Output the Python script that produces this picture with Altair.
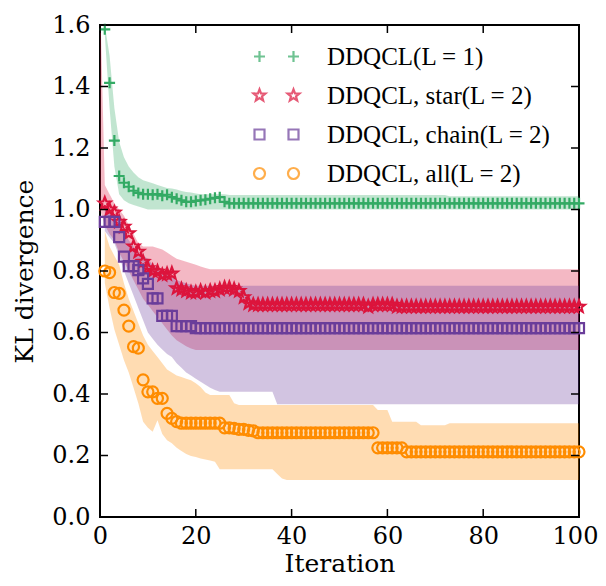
import math
import altair as alt
import pandas as pd

# ---------------- data ----------------
iterations = list(range(1, 101))
red_band_iterations = list(range(0, 101))

series_names = ["DDQCL(L = 1)", "DDQCL, star(L = 2)", "DDQCL, chain(L = 2)", "DDQCL, all(L = 2)"]
series_colors = ["#33aa64", "#dc143c", "#6a3d9a", "#ff8c00"]

green_mean = [
    1.586, 1.412, 1.224, 1.109, 1.087, 1.074, 1.061, 1.054, 1.05, 1.05,
    1.048, 1.05, 1.045, 1.048, 1.04, 1.035, 1.03, 1.025, 1.025, 1.028,
    1.03, 1.032, 1.035, 1.038, 1.04, 1.025, 1.02, 1.02, 1.02, 1.02,
    1.02, 1.02, 1.02, 1.02, 1.02, 1.02, 1.02, 1.02, 1.02, 1.02,
    1.02, 1.02, 1.02, 1.02, 1.02, 1.02, 1.02, 1.02, 1.02, 1.02,
    1.02, 1.02, 1.02, 1.02, 1.02, 1.02, 1.02, 1.02, 1.02, 1.02,
    1.02, 1.02, 1.02, 1.02, 1.02, 1.02, 1.02, 1.02, 1.02, 1.02,
    1.02, 1.02, 1.02, 1.02, 1.02, 1.02, 1.02, 1.02, 1.02, 1.02,
    1.02, 1.02, 1.02, 1.02, 1.02, 1.02, 1.02, 1.02, 1.02, 1.02,
    1.02, 1.02, 1.02, 1.02, 1.02, 1.02, 1.02, 1.02, 1.02, 1.02,
]
green_lo = [
    1.57, 1.33, 1.14, 1.05, 1.03, 1.02, 1.015, 1.01, 1.005, 1.0,
    1.0, 1.0, 1.0, 1.0, 1.0, 1.0, 1.0, 1.0, 1.0, 1.0,
    1.0, 1.0, 1.0, 1.0, 1.0, 1.0, 1.0, 1.0, 1.0, 1.0,
    1.0, 1.0, 1.0, 1.0, 1.0, 1.0, 1.0, 1.0, 1.0, 1.0,
    1.0, 1.0, 1.0, 1.0, 1.0, 1.0, 1.0, 1.0, 1.0, 1.0,
    1.0, 1.0, 1.0, 1.0, 1.0, 1.0, 1.0, 1.0, 1.0, 1.0,
    1.0, 1.0, 1.0, 1.0, 1.0, 1.0, 1.0, 1.0, 1.0, 1.0,
    1.0, 1.0, 1.0, 1.0, 1.0, 1.0, 1.0, 1.0, 1.0, 1.0,
    1.0, 1.0, 1.0, 1.0, 1.0, 1.0, 1.0, 1.0, 1.0, 1.0,
    1.0, 1.0, 1.0, 1.0, 1.0, 1.0, 1.0, 1.0, 1.0, 1.0,
]
green_hi = [
    1.6, 1.5, 1.33, 1.22, 1.17, 1.14, 1.12, 1.105, 1.095, 1.09,
    1.085, 1.08, 1.075, 1.07, 1.068, 1.065, 1.06, 1.057, 1.055, 1.052,
    1.05, 1.05, 1.05, 1.05, 1.05, 1.05, 1.047, 1.047, 1.047, 1.047,
    1.047, 1.047, 1.047, 1.047, 1.047, 1.047, 1.047, 1.047, 1.047, 1.047,
    1.047, 1.047, 1.047, 1.047, 1.047, 1.047, 1.047, 1.047, 1.047, 1.047,
    1.047, 1.047, 1.047, 1.047, 1.047, 1.047, 1.047, 1.047, 1.047, 1.047,
    1.047, 1.047, 1.047, 1.047, 1.047, 1.047, 1.047, 1.047, 1.047, 1.047,
    1.047, 1.047, 1.043, 1.043, 1.043, 1.043, 1.043, 1.043, 1.043, 1.043,
    1.043, 1.043, 1.043, 1.043, 1.043, 1.043, 1.043, 1.043, 1.043, 1.043,
    1.043, 1.043, 1.043, 1.043, 1.043, 1.043, 1.043, 1.043, 1.043, 1.043,
]

red_mean = [
    1.02, 1.0, 0.99, 0.96, 0.944, 0.923, 0.88, 0.863, 0.83, 0.809,
    0.8, 0.798, 0.787, 0.79, 0.792, 0.744, 0.74, 0.735, 0.73, 0.73,
    0.735, 0.73, 0.735, 0.735, 0.74, 0.745, 0.745, 0.74, 0.735, 0.715,
    0.695, 0.69, 0.69, 0.69, 0.69, 0.69, 0.69, 0.69, 0.69, 0.69,
    0.69, 0.69, 0.69, 0.69, 0.69, 0.69, 0.69, 0.69, 0.69, 0.69,
    0.69, 0.69, 0.69, 0.69, 0.69, 0.684, 0.69, 0.69, 0.69, 0.69,
    0.69, 0.684, 0.684, 0.684, 0.684, 0.684, 0.684, 0.684, 0.684, 0.684,
    0.684, 0.684, 0.684, 0.684, 0.684, 0.684, 0.684, 0.684, 0.684, 0.684,
    0.684, 0.684, 0.684, 0.684, 0.684, 0.684, 0.684, 0.684, 0.684, 0.684,
    0.684, 0.684, 0.684, 0.684, 0.684, 0.684, 0.684, 0.684, 0.684, 0.684,
]
# red band starts one step earlier (iteration 0)
red_lo = [
    1.0,
    0.95, 0.92, 0.9, 0.86, 0.83, 0.8, 0.77, 0.74, 0.71, 0.69,
    0.67, 0.65, 0.63, 0.61, 0.59, 0.575, 0.565, 0.555, 0.548, 0.543,
    0.543, 0.543, 0.543, 0.543, 0.543, 0.543, 0.543, 0.543, 0.543, 0.543,
    0.543, 0.543, 0.543, 0.543, 0.543, 0.543, 0.543, 0.543, 0.543, 0.543,
    0.543, 0.543, 0.543, 0.543, 0.543, 0.543, 0.543, 0.543, 0.543, 0.543,
    0.543, 0.543, 0.543, 0.543, 0.543, 0.543, 0.543, 0.543, 0.543, 0.543,
    0.543, 0.543, 0.543, 0.543, 0.543, 0.543, 0.543, 0.543, 0.543, 0.543,
    0.543, 0.543, 0.543, 0.543, 0.543, 0.543, 0.543, 0.543, 0.543, 0.543,
    0.543, 0.543, 0.543, 0.543, 0.543, 0.543, 0.543, 0.543, 0.543, 0.543,
    0.543, 0.543, 0.543, 0.543, 0.543, 0.543, 0.543, 0.543, 0.543, 0.543,
]
red_hi = [
    1.7,
    1.08, 1.05, 1.02, 1.0, 0.98, 0.95, 0.92, 0.89, 0.88, 0.88,
    0.88, 0.875, 0.87, 0.86, 0.85, 0.84, 0.835, 0.83, 0.825, 0.82,
    0.815, 0.81, 0.806, 0.806, 0.806, 0.806, 0.806, 0.806, 0.806, 0.806,
    0.806, 0.806, 0.806, 0.806, 0.806, 0.806, 0.806, 0.806, 0.806, 0.806,
    0.806, 0.806, 0.806, 0.806, 0.806, 0.806, 0.806, 0.806, 0.806, 0.806,
    0.806, 0.806, 0.806, 0.806, 0.806, 0.806, 0.806, 0.806, 0.806, 0.806,
    0.806, 0.806, 0.806, 0.806, 0.806, 0.806, 0.806, 0.806, 0.806, 0.806,
    0.806, 0.806, 0.806, 0.806, 0.806, 0.806, 0.806, 0.806, 0.806, 0.806,
    0.806, 0.806, 0.806, 0.806, 0.806, 0.806, 0.806, 0.806, 0.806, 0.806,
    0.806, 0.806, 0.806, 0.806, 0.806, 0.806, 0.806, 0.806, 0.806, 0.806,
]

purple_mean = [
    0.96, 0.96, 0.96, 0.91, 0.847, 0.816, 0.816, 0.803, 0.776, 0.758,
    0.711, 0.711, 0.654, 0.654, 0.654, 0.621, 0.621, 0.621, 0.621, 0.614,
    0.614, 0.614, 0.614, 0.614, 0.614, 0.614, 0.614, 0.614, 0.614, 0.614,
    0.614, 0.614, 0.614, 0.614, 0.614, 0.614, 0.614, 0.614, 0.614, 0.614,
    0.614, 0.614, 0.614, 0.614, 0.614, 0.614, 0.614, 0.614, 0.614, 0.614,
    0.614, 0.614, 0.614, 0.614, 0.614, 0.614, 0.614, 0.614, 0.614, 0.614,
    0.614, 0.614, 0.614, 0.614, 0.614, 0.614, 0.614, 0.614, 0.614, 0.614,
    0.614, 0.614, 0.614, 0.614, 0.614, 0.614, 0.614, 0.614, 0.614, 0.614,
    0.614, 0.614, 0.614, 0.614, 0.614, 0.614, 0.614, 0.614, 0.614, 0.614,
    0.614, 0.614, 0.614, 0.614, 0.614, 0.614, 0.614, 0.614, 0.614, 0.614,
]
purple_lo = [
    0.93, 0.91, 0.89, 0.85, 0.8, 0.76, 0.72, 0.68, 0.64, 0.6,
    0.58, 0.56, 0.545, 0.53, 0.52, 0.5, 0.485, 0.47, 0.46, 0.45,
    0.44, 0.43, 0.42, 0.413, 0.407, 0.407, 0.407, 0.407, 0.407, 0.407,
    0.407, 0.407, 0.407, 0.407, 0.407, 0.407, 0.367, 0.367, 0.367, 0.367,
    0.367, 0.367, 0.367, 0.367, 0.367, 0.367, 0.367, 0.367, 0.367, 0.367,
    0.367, 0.367, 0.367, 0.367, 0.367, 0.367, 0.367, 0.367, 0.367, 0.367,
    0.367, 0.367, 0.367, 0.367, 0.367, 0.367, 0.367, 0.367, 0.367, 0.367,
    0.367, 0.367, 0.367, 0.367, 0.367, 0.367, 0.367, 0.367, 0.367, 0.367,
    0.367, 0.367, 0.367, 0.367, 0.367, 0.367, 0.367, 0.367, 0.367, 0.367,
    0.367, 0.367, 0.367, 0.367, 0.367, 0.367, 0.367, 0.367, 0.367, 0.367,
]
purple_hi = [
    1.0, 0.99, 0.98, 0.96, 0.93, 0.9, 0.88, 0.86, 0.85, 0.84,
    0.82, 0.81, 0.8, 0.79, 0.78, 0.77, 0.765, 0.76, 0.755, 0.752,
    0.752, 0.752, 0.752, 0.752, 0.752, 0.752, 0.752, 0.752, 0.752, 0.752,
    0.752, 0.752, 0.752, 0.752, 0.752, 0.752, 0.752, 0.752, 0.752, 0.752,
    0.752, 0.752, 0.752, 0.752, 0.752, 0.752, 0.752, 0.752, 0.752, 0.752,
    0.752, 0.752, 0.752, 0.752, 0.752, 0.752, 0.752, 0.752, 0.752, 0.752,
    0.752, 0.752, 0.752, 0.752, 0.752, 0.752, 0.752, 0.752, 0.752, 0.752,
    0.752, 0.752, 0.752, 0.752, 0.752, 0.752, 0.752, 0.752, 0.752, 0.752,
    0.752, 0.752, 0.752, 0.752, 0.752, 0.752, 0.752, 0.752, 0.752, 0.752,
    0.752, 0.752, 0.752, 0.752, 0.752, 0.752, 0.752, 0.752, 0.752, 0.752,
]

orange_mean = [
    0.8, 0.795, 0.73, 0.727, 0.673, 0.621, 0.554, 0.549, 0.446, 0.407,
    0.407, 0.386, 0.386, 0.337, 0.321, 0.31, 0.305, 0.305, 0.305, 0.305,
    0.305, 0.305, 0.305, 0.305, 0.305, 0.29, 0.29, 0.288, 0.285, 0.285,
    0.282, 0.28, 0.274, 0.274, 0.274, 0.274, 0.274, 0.274, 0.274, 0.274,
    0.274, 0.274, 0.274, 0.274, 0.274, 0.274, 0.274, 0.274, 0.274, 0.274,
    0.274, 0.274, 0.274, 0.274, 0.274, 0.274, 0.274, 0.225, 0.225, 0.225,
    0.225, 0.225, 0.225, 0.212, 0.212, 0.212, 0.212, 0.212, 0.212, 0.212,
    0.212, 0.212, 0.212, 0.212, 0.212, 0.212, 0.212, 0.212, 0.212, 0.212,
    0.212, 0.212, 0.212, 0.212, 0.212, 0.212, 0.212, 0.212, 0.212, 0.212,
    0.212, 0.212, 0.212, 0.212, 0.212, 0.212, 0.212, 0.212, 0.212, 0.212,
]
orange_lo = [
    0.76, 0.68, 0.61, 0.56, 0.51, 0.47, 0.42, 0.37, 0.31, 0.29,
    0.277, 0.315, 0.27, 0.25, 0.24, 0.225, 0.215, 0.205, 0.198, 0.195,
    0.19, 0.187, 0.184, 0.18, 0.155, 0.155, 0.155, 0.155, 0.155, 0.155,
    0.155, 0.155, 0.155, 0.155, 0.155, 0.155, 0.14, 0.125, 0.12, 0.12,
    0.12, 0.12, 0.12, 0.12, 0.12, 0.12, 0.12, 0.12, 0.12, 0.12,
    0.12, 0.12, 0.12, 0.12, 0.12, 0.12, 0.12, 0.12, 0.12, 0.12,
    0.12, 0.12, 0.12, 0.12, 0.12, 0.12, 0.12, 0.12, 0.12, 0.12,
    0.12, 0.12, 0.12, 0.12, 0.12, 0.12, 0.12, 0.12, 0.12, 0.12,
    0.12, 0.12, 0.12, 0.12, 0.12, 0.12, 0.12, 0.12, 0.12, 0.12,
    0.12, 0.12, 0.12, 0.12, 0.12, 0.12, 0.12, 0.12, 0.12, 0.12,
]
orange_hi = [
    0.93, 0.88, 0.85, 0.82, 0.76, 0.71, 0.67, 0.63, 0.59, 0.56,
    0.54, 0.52, 0.5, 0.48, 0.47, 0.46, 0.455, 0.45, 0.445, 0.435,
    0.423, 0.405, 0.397, 0.397, 0.397, 0.397, 0.397, 0.37, 0.364, 0.364,
    0.364, 0.364, 0.364, 0.364, 0.364, 0.364, 0.364, 0.364, 0.364, 0.364,
    0.364, 0.364, 0.364, 0.364, 0.364, 0.364, 0.364, 0.364, 0.364, 0.364,
    0.364, 0.364, 0.364, 0.364, 0.364, 0.364, 0.364, 0.348, 0.348, 0.348,
    0.31, 0.31, 0.31, 0.31, 0.31, 0.31, 0.298, 0.298, 0.298, 0.298,
    0.298, 0.298, 0.305, 0.305, 0.305, 0.305, 0.305, 0.305, 0.305, 0.305,
    0.305, 0.305, 0.305, 0.305, 0.305, 0.305, 0.305, 0.305, 0.305, 0.305,
    0.305, 0.305, 0.305, 0.305, 0.305, 0.305, 0.305, 0.305, 0.305, 0.305,
]

x_ticks = [0, 20, 40, 60, 80, 100]
y_ticks = [0.0, 0.2, 0.4, 0.6, 0.8, 1.0, 1.2, 1.4, 1.6]

# ---------------- tables ----------------
means = [green_mean, red_mean, purple_mean, orange_mean]
bands = [
    (iterations, green_lo, green_hi),
    (red_band_iterations, red_lo, red_hi),
    (iterations, purple_lo, purple_hi),
    (iterations, orange_lo, orange_hi),
]
points_rows, band_rows = [], []
for name, m in zip(series_names, means):
    for x, v in zip(iterations, m):
        points_rows.append({"series": name, "x": x, "v": v})
for name, (xs, lo, hi) in zip(series_names, bands):
    for x, a, b in zip(xs, lo, hi):
        band_rows.append({"series": name, "x": x, "lo": a, "hi": b})
points_df = pd.DataFrame(points_rows)
band_df = pd.DataFrame(band_rows)
legend_df = pd.DataFrame({"series": series_names})
xt_df = pd.DataFrame({"t": x_ticks})
yt_df = pd.DataFrame({"t": y_ticks})

# ---------------- marker shapes (pixel-sized paths, drawn with size=4) ----------------
def plus(dx=0.0, r=5.5):
    return f"M{dx - r},0H{dx + r}M{dx},{-r}V{r}"

def square(dx=0.0, r=5.0):
    return f"M{dx - r},{-r}H{dx + r}V{r}H{dx - r}Z"

def circle(dx=0.0, r=5.5):
    return f"M{dx - r},0A{r},{r} 0 1,0 {dx + r},0A{r},{r} 0 1,0 {dx - r},0Z"

def star(dx=0.0, R=6.2):
    pts = []
    for k in range(10):
        rad = R if k % 2 == 0 else R * 0.42
        ang = math.radians(-90 + 36 * k)
        pts.append(f"{dx + rad * math.cos(ang):.2f},{rad * math.sin(ang):.2f}")
    return "M" + "L".join(pts) + "Z"

single_paths = [plus(), star(), square(), circle()]
gap = 17
double_paths = [
    plus(-gap) + plus(gap),
    star(-gap) + star(gap),
    square(-gap) + square(gap),
    circle(-gap) + circle(gap),
]

# ---------------- chart ----------------
W, H = 479, 492
FONT = "DejaVu Serif"
xscale = alt.Scale(domain=[0, 100], nice=False, zero=False)
yscale = alt.Scale(domain=[0, 1.6], nice=False)
cscale = alt.Scale(domain=series_names, range=series_colors)

xaxis = alt.Axis(values=x_ticks, format="d", title="Iteration", ticks=False, tickSize=0,
                 domain=False, grid=False, labelPadding=7, titlePadding=3,
                 labelFlush=False, labelOverlap=False,
                 labelOffset={"condition": {"test": "datum.value === 100", "value": -4}, "value": 0})
yaxis = alt.Axis(values=y_ticks, format=".1f", title="KL divergence", ticks=False, tickSize=0,
                 domain=False, grid=False, labelPadding=10, titlePadding=14,
                 labelFlush=False, labelOverlap=False)

X = lambda f: alt.X(f, scale=xscale, axis=xaxis)
Y = lambda f: alt.Y(f, scale=yscale, axis=yaxis)

band_layer = alt.Chart(band_df).mark_area(opacity=0.3, clip=True).encode(
    x=X("x:Q"),
    y=alt.Y("lo:Q", scale=yscale, axis=yaxis, stack=None),
    y2="hi:Q",
    color=alt.Color("series:N", scale=cscale, legend=None),
    detail="series:N",
)

point_layer = alt.Chart(points_df).mark_point(filled=False, strokeWidth=2.2, size=4, opacity=1).encode(
    x=X("x:Q"),
    y=Y("v:Q"),
    color=alt.Color("series:N", scale=cscale, legend=None),
    shape=alt.Shape("series:N", scale=alt.Scale(domain=series_names, range=single_paths), legend=None),
)

legend_props = dict(
    title=None, orient="none", legendX=164, legendY=19, padding=0,
    labelFont="Liberation Serif", labelFontSize=25, labelColor="black", labelLimit=400,
    labelOffset=38, rowPadding=13, symbolSize=4, symbolStrokeWidth=2.2,
)
legend_layer = alt.Chart(legend_df).mark_point(filled=False, strokeWidth=2.2, size=4, clip=True).encode(
    x=alt.value(-200),
    y=alt.value(-200),
    color=alt.Color("series:N", scale=cscale, legend=alt.Legend(**legend_props)),
    shape=alt.Shape("series:N", scale=alt.Scale(domain=series_names, range=double_paths),
                    legend=alt.Legend(**legend_props)),
)

TL = 8
tick_style = dict(color="black", strokeWidth=1.5)
bottom_ticks = alt.Chart(xt_df).mark_rule(**tick_style).encode(
    x=X("t:Q"), y=alt.value(H), y2=alt.value(H - TL))
top_ticks = alt.Chart(xt_df).mark_rule(**tick_style).encode(
    x=X("t:Q"), y=alt.value(0), y2=alt.value(TL))
left_ticks = alt.Chart(yt_df).mark_rule(**tick_style).encode(
    y=Y("t:Q"), x=alt.value(0), x2=alt.value(TL))
right_ticks = alt.Chart(yt_df).mark_rule(**tick_style).encode(
    y=Y("t:Q"), x=alt.value(W), x2=alt.value(W - TL))

chart = alt.layer(
    band_layer, point_layer, legend_layer,
    bottom_ticks, top_ticks, left_ticks, right_ticks,
).resolve_scale(
    color="independent", shape="independent"
).properties(
    width=W, height=H,
    autosize=alt.AutoSizeParams(type="none"),
    padding={"left": 92, "top": 17, "right": 19, "bottom": 61},
).configure_view(
    stroke="black", strokeWidth=2
).configure_axis(
    labelFont=FONT, labelFontSize=24, labelColor="black",
    titleFont=FONT, titleFontSize=25, titleColor="black", titleFontWeight="normal",
)

chart.save("out.html", embed_options={"renderer": "svg", "actions": False})
